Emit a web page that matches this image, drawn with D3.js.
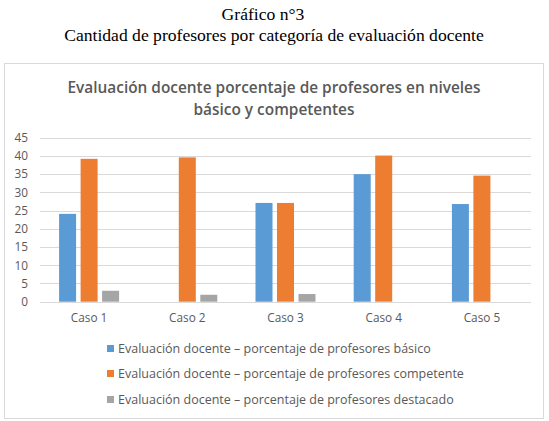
<!DOCTYPE html>
<html>
<head>
<meta charset="utf-8">
<script src="https://cdn.jsdelivr.net/npm/d3@7"></script>
<style>
    body { margin: 0; background: #fff; }
    svg text { font-family: "Open Sans", "Liberation Sans", sans-serif; }
    .page-title { font-family: "Liberation Serif", "DejaVu Serif", serif !important; fill: #000; font-size: 17.6px; }
    .chart-title { fill: #595959; font-size: 15.4px; font-weight: 600; }
    .axis text { fill: #595959; font-size: 11.8px; }
    .legend text { fill: #595959; font-size: 12.5px; }
</style>
</head>
<body>
<div id="chart"></div>
<script>
// data
let categories = ["Caso 1", "Caso 2", "Caso 3", "Caso 4", "Caso 5"];
let seriesNames = [
    "Evaluación docente – porcentaje de profesores básico",
    "Evaluación docente – porcentaje de profesores competente",
    "Evaluación docente – porcentaje de profesores destacado"
];
let basico = [24.1, 0, 27.1, 35.0, 26.8];
let competente = [39.2, 39.6, 27.1, 40.1, 34.6];
let destacado = [3.0, 1.9, 2.1, 0, 0];
let yTicks = [0, 5, 10, 15, 20, 25, 30, 35, 40, 45];
let colors = ["#5b9bd5", "#ed7d31", "#a5a5a5"];

let allSeries = [basico, competente, destacado];

let width = 549, height = 421;

let svg = d3.select("#chart").append("svg")
    .attr("width", width)
    .attr("height", height);

// page titles
svg.append("text")
    .attr("class", "page-title")
    .attr("x", 263).attr("y", 20)
    .attr("text-anchor", "middle")
    .text("Gráfico n°3");

svg.append("text")
    .attr("class", "page-title")
    .attr("x", 274).attr("y", 41)
    .attr("text-anchor", "middle")
    .text("Cantidad de profesores por categoría de evaluación docente");

// chart frame
svg.append("rect")
    .attr("x", 4.5).attr("y", 63.5)
    .attr("width", 539).attr("height", 355)
    .attr("fill", "#fff")
    .attr("stroke", "#d9d9d9")
    .attr("stroke-width", 1);

svg.append("text")
    .attr("class", "chart-title")
    .attr("x", 274).attr("y", 93)
    .attr("text-anchor", "middle")
    .text("Evaluación docente porcentaje de profesores en niveles");

svg.append("text")
    .attr("class", "chart-title")
    .attr("x", 274).attr("y", 115)
    .attr("text-anchor", "middle")
    .text("básico y competentes");

// plot area
let plot = {left: 40, right: 531, top: 137.7, bottom: 301.7};

let x = d3.scaleBand()
    .domain(categories)
    .range([plot.left, plot.right]);

let y = d3.scaleLinear()
    .domain([0, 45])
    .range([plot.bottom, plot.top]);

// gridlines
svg.append("g")
    .selectAll("line")
    .data(yTicks)
    .enter()
    .append("line")
    .attr("x1", plot.left)
    .attr("x2", plot.right)
    .attr("y1", d => Math.round(y(d)) + 0.5)
    .attr("y2", d => Math.round(y(d)) + 0.5)
    .attr("stroke", "#d9d9d9")
    .attr("stroke-width", 1);

// y axis labels
let yAxis = d3.axisLeft(y).tickValues(yTicks).tickSize(0).tickPadding(0);
svg.append("g")
    .attr("class", "axis")
    .attr("transform", `translate(${plot.left - 12},0)`)
    .call(yAxis)
    .call(g => g.select(".domain").remove());

// x axis labels
let xAxis = d3.axisBottom(x).tickSize(0).tickPadding(0);
svg.append("g")
    .attr("class", "axis")
    .attr("transform", `translate(0,${plot.bottom + 12})`)
    .call(xAxis)
    .call(g => g.select(".domain").remove());

// bars
let barW = 17, gap = 4.5;
let groupW = barW * 3 + gap * 2;

allSeries.forEach(function (vals, i) {
    svg.append("g")
        .selectAll("rect")
        .data(vals)
        .enter()
        .append("rect")
        .attr("x", (d, j) => x(categories[j]) + x.bandwidth() / 2 - groupW / 2 + i * (barW + gap))
        .attr("y", d => y(d))
        .attr("width", barW)
        .attr("height", d => y(0) - y(d))
        .attr("fill", colors[i]);
});

// legend
let legend = svg.append("g").attr("class", "legend");
let legendY = [349, 374, 400];

seriesNames.forEach(function (name, i) {
    legend.append("rect")
        .attr("x", 107)
        .attr("y", legendY[i] - 4)
        .attr("width", 7)
        .attr("height", 7)
        .attr("fill", colors[i]);
    legend.append("text")
        .attr("x", 118)
        .attr("y", legendY[i])
        .attr("dy", "0.35em")
        .text(name);
});
</script>
</body>
</html>
